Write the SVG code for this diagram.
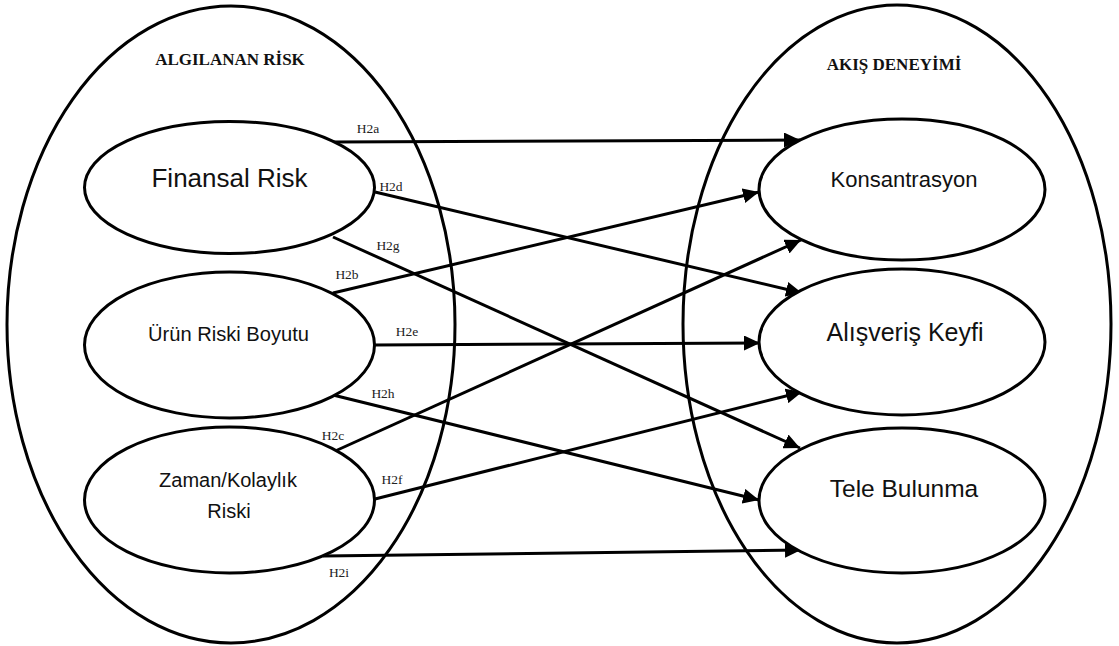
<svg xmlns="http://www.w3.org/2000/svg" width="1119" height="646" viewBox="0 0 1119 646">
  <style>
    .group-shape { fill: none; stroke: #000; stroke-width: 3; }
    .node-shape { fill: #fff; stroke: #000; stroke-width: 3; }
    .edge { fill: none; stroke: #000; stroke-width: 3; }
    .title { font-family: "Liberation Serif", "Times New Roman", serif; font-weight: bold; font-size: 17px; fill: #111; text-anchor: middle; }
    .node-label { font-family: "Liberation Sans", Arial, sans-serif; fill: #111; text-anchor: middle; }
    .edge-label { font-family: "Liberation Serif", "Times New Roman", serif; font-size: 13.5px; fill: #222; text-anchor: middle; }
  </style>
  <defs>
    <marker id="arrow" markerUnits="userSpaceOnUse" markerWidth="17" markerHeight="15" refX="16" refY="7.5" orient="auto">
      <path d="M0,0 L16,7.5 L0,15 Z" fill="#000"/>
    </marker>
  </defs>

  <rect x="0" y="0" width="1119" height="646" fill="#fff"/>

  <!-- construct groupings -->
  <g id="group-algilanan-risk">
    <ellipse class="group-shape" cx="231" cy="324.5" rx="224" ry="318.5"/>
    <text class="title" x="230" y="65">ALGILANAN RİSK</text>
  </g>
  <g id="group-akis-deneyimi">
    <ellipse class="group-shape" cx="897" cy="324" rx="214" ry="319"/>
    <text class="title" x="894" y="70">AKIŞ DENEYİMİ</text>
  </g>

  <!-- hypothesis paths -->
  <g id="connectors">
    <path class="edge" marker-end="url(#arrow)" d="M333,142 L800,140"/>
    <path class="edge" marker-end="url(#arrow)" d="M375,192 L802,293"/>
    <path class="edge" marker-end="url(#arrow)" d="M333,237 L800,448"/>
    <path class="edge" marker-end="url(#arrow)" d="M333,293 L759,192"/>
    <path class="edge" marker-end="url(#arrow)" d="M374,345 L760,343"/>
    <path class="edge" marker-end="url(#arrow)" d="M333,395 L759,500"/>
    <path class="edge" marker-end="url(#arrow)" d="M333,452 L801,240"/>
    <path class="edge" marker-end="url(#arrow)" d="M375,499 L802,392"/>
    <path class="edge" marker-end="url(#arrow)" d="M323,556 L801,550"/>
    <text class="edge-label" x="368" y="133">H2a</text>
    <text class="edge-label" x="391" y="191">H2d</text>
    <text class="edge-label" x="388" y="250">H2g</text>
    <text class="edge-label" x="347" y="279">H2b</text>
    <text class="edge-label" x="407" y="336">H2e</text>
    <text class="edge-label" x="383" y="398">H2h</text>
    <text class="edge-label" x="333" y="440">H2c</text>
    <text class="edge-label" x="392" y="484">H2f</text>
    <text class="edge-label" x="339" y="577">H2i</text>
  </g>

  <!-- risk dimensions -->
  <g id="node-finansal-risk">
    <ellipse class="node-shape" cx="229.5" cy="187.5" rx="145" ry="66"/>
    <text class="node-label" x="229.5" y="187" font-size="26">Finansal Risk</text>
  </g>
  <g id="node-urun-riski">
    <ellipse class="node-shape" cx="229.5" cy="345" rx="145" ry="73"/>
    <text class="node-label" x="228.5" y="341" font-size="21" textLength="161" lengthAdjust="spacingAndGlyphs">Ürün Riski Boyutu</text>
  </g>
  <g id="node-zaman-kolaylik">
    <ellipse class="node-shape" cx="229.5" cy="500" rx="145" ry="73"/>
    <text class="node-label" x="228" y="487" font-size="20">Zaman/Kolaylık</text>
    <text class="node-label" x="229" y="518" font-size="20">Riski</text>
  </g>

  <!-- flow experience dimensions -->
  <g id="node-konsantrasyon">
    <ellipse class="node-shape" cx="902" cy="189.5" rx="143" ry="70.5"/>
    <text class="node-label" x="904" y="187" font-size="22">Konsantrasyon</text>
  </g>
  <g id="node-alisveris-keyfi">
    <ellipse class="node-shape" cx="902" cy="342" rx="143" ry="73"/>
    <text class="node-label" x="905" y="341" font-size="25">Alışveriş Keyfi</text>
  </g>
  <g id="node-tele-bulunma">
    <ellipse class="node-shape" cx="902" cy="500.5" rx="143" ry="72.5"/>
    <text class="node-label" x="904" y="497" font-size="24.5">Tele Bulunma</text>
  </g>
</svg>
